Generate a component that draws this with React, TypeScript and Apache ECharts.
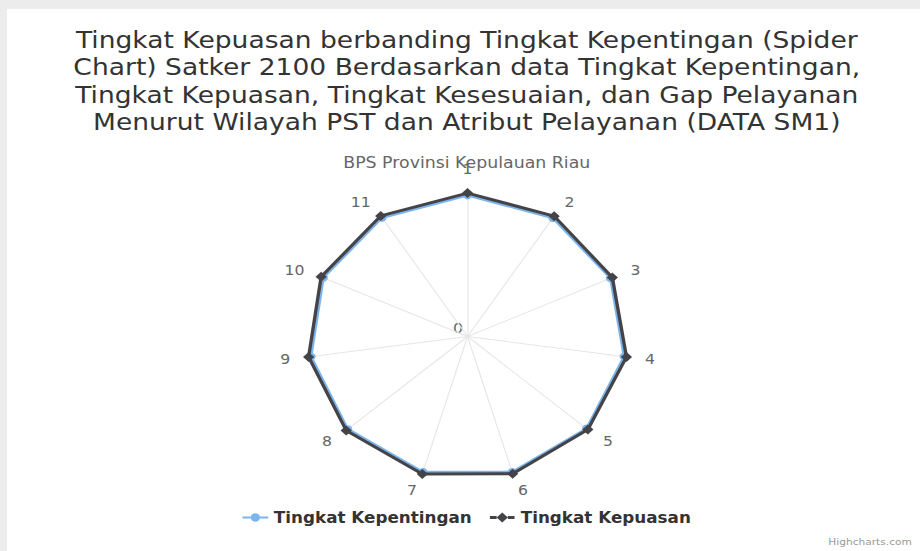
import React, { useEffect, useRef } from "react";
import * as echarts from "echarts";

const titleLines = [
  "Tingkat Kepuasan berbanding Tingkat Kepentingan (Spider",
  "Chart) Satker 2100 Berdasarkan data Tingkat Kepentingan,",
  "Tingkat Kepuasan, Tingkat Kesesuaian, dan Gap Pelayanan",
  "Menurut Wilayah PST dan Atribut Pelayanan (DATA SM1)",
];
const subtitle = "BPS Provinsi Kepulauan Riau";
const categories = ["1", "2", "3", "4", "5", "6", "7", "8", "9", "10", "11"];
const kepentingan = [4.53, 4.52, 4.5, 4.53, 4.51, 4.53, 4.53, 4.54, 4.53, 4.54, 4.53];
const kepuasan = [4.6, 4.59, 4.56, 4.6, 4.56, 4.59, 4.6, 4.6, 4.6, 4.61, 4.6];
const axisMax = 4.62;
const seriesNames = ["Tingkat Kepentingan", "Tingkat Kepuasan"];
const centerLabel = "0";
const credits = "Highcharts.com";

// ECharts radar runs counter-clockwise; reorder so categories run clockwise like the reference
const order = categories.map((_, i) => (i === 0 ? 0 : categories.length - i));

// the reference picture is stretched horizontally
const SX = 1.12;

const circleIcon =
  "path://M0 4h7v2H0z M15 4h7v2h-7z M7 5a4 4 0 1 0 8 0a4 4 0 1 0 -8 0z";
const diamondIcon = "path://M0 3.5h6v3H0z M16 3.5h6v3h-6z M11 0L16 5L11 10L6 5z";

export default function App() {
  const ref = useRef<HTMLDivElement>(null);
  useEffect(() => {
    if (!ref.current) return;
    const chart = echarts.init(ref.current, undefined, { renderer: "svg" });
    const font = "DejaVu Sans";
    chart.setOption({
      animation: false,
      backgroundColor: "#ffffff",
      textStyle: { fontFamily: font },
      title: [
        {
          text: titleLines.join("\n"),
          left: "center",
          top: 12,
          textStyle: {
            fontFamily: font,
            fontSize: 23.7,
            lineHeight: 27.5,
            fontWeight: "normal",
            color: "#333333",
          },
        },
        {
          text: subtitle,
          left: "center",
          top: 141,
          textStyle: {
            fontFamily: font,
            fontSize: 15.5,
            fontWeight: "normal",
            color: "#666666",
          },
        },
      ],
      legend: {
        data: [
          { name: seriesNames[0], icon: circleIcon },
          { name: seriesNames[1], icon: diamondIcon },
        ],
        left: "center",
        top: 496,
        itemWidth: 23,
        itemHeight: 10,
        itemGap: 16,
        textStyle: { fontFamily: font, fontSize: 15, fontWeight: "bold", color: "#333333" },
      },
      radar: {
        center: [411.2, 327.5],
        radius: 144,
        startAngle: 90,
        shape: "polygon",
        splitNumber: 1,
        nameGap: 16,
        indicator: order.map((i) => ({ name: categories[i], max: axisMax, min: 0 })),
        axisName: { color: "#666666", fontSize: 14, fontFamily: font },
        axisLine: { lineStyle: { color: "#e6e6e6", width: 1 } },
        splitLine: { show: false },
        splitArea: { show: false },
        axisTick: { show: false },
        axisLabel: { show: false },
      },
      graphic: [
        {
          type: "text",
          x: 402.7,
          y: 319,
          style: {
            text: centerLabel,
            fill: "#666666",
            fontSize: 14,
            fontFamily: font,
            align: "center",
            verticalAlign: "middle",
          },
        },
        {
          type: "text",
          right: 13,
          bottom: 4,
          style: { text: credits, fill: "#999999", fontSize: 9.5, fontFamily: font },
        },
      ],
      series: [
        {
          type: "radar",
          name: seriesNames[0],
          symbol: "circle",
          symbolSize: 8,
          lineStyle: { color: "#7cb5ec", width: 2.5 },
          itemStyle: { color: "#7cb5ec" },
          data: [{ name: seriesNames[0], value: order.map((i) => kepentingan[i]) }],
          z: 2,
        },
        {
          type: "radar",
          name: seriesNames[1],
          symbol: "diamond",
          symbolSize: 10,
          lineStyle: { color: "#434348", width: 3 },
          itemStyle: { color: "#434348" },
          data: [{ name: seriesNames[1], value: order.map((i) => kepuasan[i]) }],
          z: 3,
        },
      ],
    });
    return () => chart.dispose();
  }, []);
  return (
    <div
      style={{
        position: "absolute",
        left: 0,
        top: 0,
        width: 920,
        height: 551,
        overflow: "hidden",
        background: "#ececec",
      }}
    >
      <div
        style={{
          position: "absolute",
          left: 7,
          top: 9,
          width: 913,
          height: 542,
          background: "#ffffff",
          overflow: "hidden",
        }}
      >
        <div
          ref={ref}
          style={{
            position: "absolute",
            left: 0,
            top: 0,
            width: 821,
            height: 542,
            transform: `scaleX(${SX})`,
            transformOrigin: "0 0",
          }}
        />
      </div>
    </div>
  );
}
